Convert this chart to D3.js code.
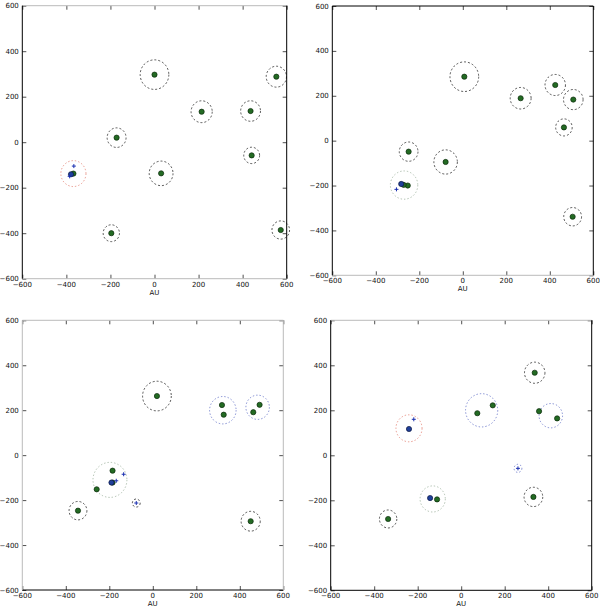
<!DOCTYPE html>
<html>
<head>
<meta charset="utf-8">
<script src="https://cdn.jsdelivr.net/npm/d3@7"></script>
<style>
  body { margin: 0; background: #fff; }
  svg { display: block; font-family: "DejaVu Sans", sans-serif; }
</style>
</head>
<body>
<svg id="chart" width="600" height="607"></svg>
<script>
const ticks = [-600, -400, -200, 0, 200, 400, 600];
const axisLabel = "AU";

// panel 1 (top left)
const p1Green = [[0, 297], [214, 134], [436, 137], [553, 288], [-172, 20], [30, -137], [441, -58], [-196, -400], [573, -386], [-368, -138]];
const p1Blue = [[-379, -141]];
const p1Plus = [[-366, -105], [-385, -150]];
const p1Rings = [[0, 297, 65, "k"], [214, 134, 48, "k"], [436, 137, 45, "k"], [553, 288, 46, "k"], [-172, 20, 43, "k"], [30, -137, 54, "k"], [441, -58, 36, "k"], [-196, -400, 37, "k"], [573, -386, 40, "k"], [-368, -138, 57, "r"]];

// panel 2 (top right)
const p2Green = [[7, 285], [266, 189], [425, 248], [508, 183], [465, 59], [-249, -49], [-79, -95], [505, -339], [-253, -200], [-272, -197]];
const p2Blue = [[-283, -193]];
const p2Plus = [[-305, -217]];
const p2Rings = [[7, 285, 66, "k"], [266, 189, 48, "k"], [425, 248, 47, "k"], [508, 183, 45, "k"], [465, 59, 38, "k"], [-249, -49, 43, "k"], [-79, -95, 54, "k"], [505, -339, 41, "k"], [-270, -198, 63, "g"]];

// panel 3 (bottom left)
const p3Green = [[19, 263], [318, 223], [326, 180], [491, 224], [462, 191], [-185, -69], [-185, -122], [-258, -152], [-344, -247], [450, -294]];
const p3Blue = [[-190, -122]];
const p3Plus = [[-168, -114], [-134, -85], [-76, -213]];
const p3Rings = [[19, 263, 66, "k"], [322, 200, 61, "b"], [482, 213, 54, "b"], [-197, -110, 78, "g"], [-344, -247, 41, "k"], [450, -294, 44, "k"], [-76, -213, 18, "k"]];

// panel 4 (bottom right)
const p4Green = [[338, 367], [74, 187], [145, 222], [358, 196], [441, 164], [332, -185], [-111, -196], [-336, -283]];
const p4Blue = [[-240, 117], [-143, -190]];
const p4Plus = [[-218, 160], [261, -58]];
const p4Rings = [[338, 367, 47, "k"], [94, 200, 74, "b"], [412, 176, 54, "b"], [-240, 120, 60, "r"], [261, -58, 18, "b"], [332, -185, 43, "k"], [-131, -194, 58, "g"], [-336, -283, 40, "k"]];

const ringColor = { k: "#111", r: "#e07060", b: "#5060c0", g: "#90a890" };

const panels = [
  { x0: 22.3, x1: 286.7, y0: 5.7, y1: 278.7, green: p1Green, blue: p1Blue, plus: p1Plus, rings: p1Rings,
    spines: { top: "#bbb", bottom: "#bbb", left: "#000", right: "#000" } },
  { x0: 332.3, x1: 593.3, y0: 6, y1: 275.3, green: p2Green, blue: p2Blue, plus: p2Plus, rings: p2Rings,
    spines: { top: "#000", bottom: "#bbb", left: "#000", right: "#000" } },
  { x0: 22.3, x1: 283.3, y0: 320.3, y1: 590, green: p3Green, blue: p3Blue, plus: p3Plus, rings: p3Rings,
    spines: { top: "#bbb", bottom: "#000", left: "#bbb", right: "#bbb" } },
  { x0: 330.7, x1: 591.7, y0: 320.3, y1: 590.3, green: p4Green, blue: p4Blue, plus: p4Plus, rings: p4Rings,
    spines: { top: "#bbb", bottom: "#000", left: "#000", right: "#000" } }
];

const svg = d3.select("#chart");
const fmt = (v) => (v < 0 ? "\u2212" + Math.abs(v) : String(v));

panels.forEach((p) => {
  const x = d3.scaleLinear().domain([-600, 600]).range([p.x0, p.x1]);
  const y = d3.scaleLinear().domain([-600, 600]).range([p.y1, p.y0]);
  const g = svg.append("g");

  // inward ticks on all four sides
  g.append("g").attr("transform", `translate(0,${p.y1})`)
    .call(d3.axisTop(x).tickValues(ticks).tickSize(4).tickFormat(""))
    .call((a) => a.select(".domain").remove());
  g.append("g").attr("transform", `translate(0,${p.y0})`)
    .call(d3.axisBottom(x).tickValues(ticks).tickSize(4).tickFormat(""))
    .call((a) => a.select(".domain").remove());
  g.append("g").attr("transform", `translate(${p.x0},0)`)
    .call(d3.axisRight(y).tickValues(ticks).tickSize(4).tickFormat(""))
    .call((a) => a.select(".domain").remove());
  g.append("g").attr("transform", `translate(${p.x1},0)`)
    .call(d3.axisLeft(y).tickValues(ticks).tickSize(4).tickFormat(""))
    .call((a) => a.select(".domain").remove());
  g.selectAll(".tick line").attr("stroke", "#222").attr("stroke-width", 0.8);

  // tick labels
  g.selectAll("text.xl").data(ticks).join("text").attr("class", "xl")
    .attr("x", (d) => x(d)).attr("y", p.y1 + 8)
    .attr("text-anchor", "middle").attr("font-size", 7).attr("fill", "#111")
    .text(fmt);
  g.selectAll("text.yl").data(ticks).join("text").attr("class", "yl")
    .attr("x", p.x0 - 3.5).attr("y", (d) => y(d) + 2.5)
    .attr("text-anchor", "end").attr("font-size", 7).attr("fill", "#111")
    .text(fmt);
  g.append("text").attr("x", (p.x0 + p.x1) / 2).attr("y", p.y1 + 16)
    .attr("text-anchor", "middle").attr("font-size", 7).attr("fill", "#111")
    .text(axisLabel);

  // dashed rings, radius in AU
  g.selectAll("ellipse").data(p.rings).join("ellipse")
    .attr("cx", (d) => x(d[0])).attr("cy", (d) => y(d[1]))
    .attr("rx", (d) => x(d[2]) - x(0)).attr("ry", (d) => y(0) - y(d[2]))
    .attr("fill", "none")
    .attr("stroke", (d) => ringColor[d[3]])
    .attr("stroke-width", (d) => (d[3] === "k" ? 0.7 : 0.7))
    .attr("stroke-dasharray", (d) => (d[3] === "k" ? "2,2" : "1.4,2"));

  g.selectAll("circle.green").data(p.green).join("circle").attr("class", "green")
    .attr("cx", (d) => x(d[0])).attr("cy", (d) => y(d[1])).attr("r", 2.6)
    .attr("fill", "#236b23").attr("stroke", "#0b2a0b").attr("stroke-width", 0.7);
  g.selectAll("circle.blue").data(p.blue).join("circle").attr("class", "blue")
    .attr("cx", (d) => x(d[0])).attr("cy", (d) => y(d[1])).attr("r", 2.6)
    .attr("fill", "#1f3f9a").attr("stroke", "#0a1540").attr("stroke-width", 0.7);
  g.selectAll("path.plus").data(p.plus).join("path").attr("class", "plus")
    .attr("d", (d) => {
      const cx = x(d[0]), cy = y(d[1]);
      return `M${cx - 2},${cy}H${cx + 2}M${cx},${cy - 2}V${cy + 2}`;
    })
    .attr("stroke", "#1a2fb0").attr("stroke-width", 1).attr("fill", "none");

  // frame
  const s = p.spines;
  g.append("line").attr("x1", p.x0).attr("x2", p.x1).attr("y1", p.y0).attr("y2", p.y0).attr("stroke", s.top);
  g.append("line").attr("x1", p.x0).attr("x2", p.x1).attr("y1", p.y1).attr("y2", p.y1).attr("stroke", s.bottom);
  g.append("line").attr("x1", p.x0).attr("x2", p.x0).attr("y1", p.y0).attr("y2", p.y1).attr("stroke", s.left);
  g.append("line").attr("x1", p.x1).attr("x2", p.x1).attr("y1", p.y0).attr("y2", p.y1).attr("stroke", s.right);
});
</script>
</body>
</html>
